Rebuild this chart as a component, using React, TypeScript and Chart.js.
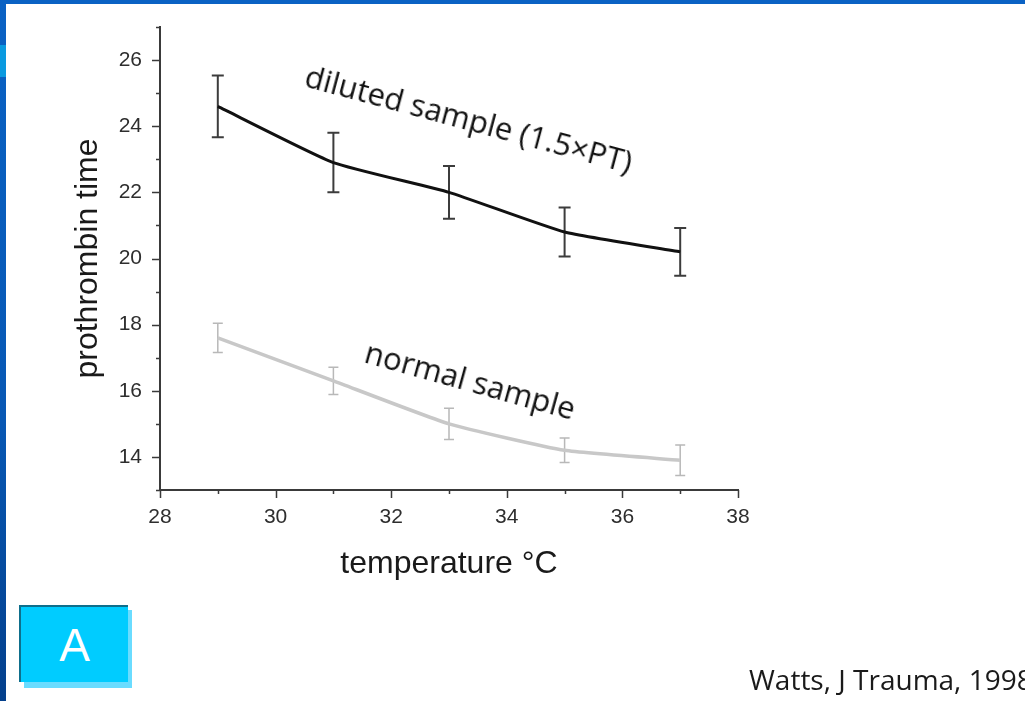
import React, { useEffect, useRef } from "react";
import { Chart, registerables } from "chart.js";

Chart.register(...registerables);

// ---- data ----
const temperatures = [29, 31, 33, 35, 37];
const dilutedMeans = [24.6, 22.9, 22.0, 20.8, 20.2];
const dilutedErrors = [0.93, 0.9, 0.8, 0.74, 0.72];
const normalMeans = [17.6, 16.3, 15.0, 14.2, 13.9];
const normalErrors = [0.44, 0.41, 0.47, 0.37, 0.46];
const xMin = 28;
const xMax = 38;
const yMin = 13;
const yMax = 27;
const dilutedLabel = "diluted sample (1.5×PT)";
const normalLabel = "normal sample";
const xTitle = "temperature °C";
const yTitle = "prothrombin time";
const citation = "Watts, J Trauma, 1998";
const panelLetter = "A";

const errorBarPlugin = {
  id: "errorBars",
  beforeDatasetsDraw(chart: any) {
    const ctx = chart.ctx;
    const xs = chart.scales.x;
    const ys = chart.scales.y;
    chart.data.datasets.forEach((ds: any) => {
      const errs: number[] = ds.errors;
      if (!errs) return;
      ctx.save();
      ctx.strokeStyle = ds.errorColor;
      ctx.lineWidth = ds.errorWidth;
      ds.data.forEach((p: any, i: number) => {
        const px = xs.getPixelForValue(p.x);
        const top = ys.getPixelForValue(p.y + errs[i]);
        const bot = ys.getPixelForValue(p.y - errs[i]);
        const c = ds.capHalf;
        ctx.beginPath();
        ctx.moveTo(px, top);
        ctx.lineTo(px, bot);
        ctx.moveTo(px - c, top);
        ctx.lineTo(px + c, top);
        ctx.moveTo(px - c, bot);
        ctx.lineTo(px + c, bot);
        ctx.stroke();
      });
      ctx.restore();
    });
  },
};

const tickMarkPlugin = {
  id: "tickMarks",
  afterDraw(chart: any) {
    const ctx = chart.ctx;
    const xs = chart.scales.x;
    const ys = chart.scales.y;
    const area = chart.chartArea;
    ctx.save();
    ctx.strokeStyle = "#3a3a3a";
    ctx.lineWidth = 1.5;
    ctx.beginPath();
    for (let v = xMin; v <= xMax; v++) {
      const px = Math.round(xs.getPixelForValue(v)) + 0.5;
      const len = v % 2 === 0 ? 8 : 4;
      ctx.moveTo(px, area.bottom);
      ctx.lineTo(px, area.bottom + len);
    }
    for (let v = yMin; v <= yMax; v++) {
      const py = Math.round(ys.getPixelForValue(v)) + 0.5;
      const len = v % 2 === 0 ? 8 : 4;
      ctx.moveTo(area.left, py);
      ctx.lineTo(area.left - len, py);
    }
    ctx.stroke();
    ctx.restore();
  },
};

function ChartPanel() {
  const ref = useRef<HTMLCanvasElement | null>(null);
  useEffect(() => {
    if (!ref.current) return;
    const chart = new Chart(ref.current, {
      type: "line",
      data: {
        datasets: [
          {
            label: dilutedLabel,
            data: temperatures.map((t, i) => ({ x: t, y: dilutedMeans[i] })),
            borderColor: "#111111",
            borderWidth: 3,
            pointRadius: 0,
            tension: 0.15,
            errors: dilutedErrors,
            errorColor: "#3c3c3c",
            errorWidth: 2,
            capHalf: 6,
          } as any,
          {
            label: normalLabel,
            data: temperatures.map((t, i) => ({ x: t, y: normalMeans[i] })),
            borderColor: "#c8c8c8",
            borderWidth: 3.5,
            pointRadius: 0,
            tension: 0.15,
            errors: normalErrors,
            errorColor: "#b8b8b8",
            errorWidth: 1.5,
            capHalf: 5,
          } as any,
        ],
      },
      options: {
        responsive: false,
        animation: false,
        events: [],
        layout: { padding: { top: 27, right: 287, left: 0, bottom: 0 } },
        plugins: { legend: { display: false }, tooltip: { enabled: false } },
        scales: {
          x: {
            type: "linear",
            min: xMin,
            max: xMax,
            afterFit: (s: any) => {
              s.height = 211;
              s.paddingLeft = 0;
              s.paddingRight = 0;
            },
            grid: { display: false, drawTicks: false },
            border: { display: true, color: "#3a3a3a", width: 2 },
            ticks: {
              stepSize: 1,
              padding: 15,
              color: "#2e2e2e",
              font: { family: "'Liberation Sans', Arial, sans-serif", size: 21 },
              maxRotation: 0,
              autoSkip: false,
              callback: (v: any) => (Number(v) % 2 === 0 ? String(v) : ""),
            },
            title: {
              display: true,
              text: xTitle,
              color: "#1a1a1a",
              font: { family: "'Liberation Sans', Arial, sans-serif", size: 32 },
              padding: { top: 0, bottom: 118 },
            },
          },
          y: {
            type: "linear",
            min: yMin,
            max: yMax,
            afterFit: (s: any) => {
              s.width = 160;
              s.paddingTop = 0;
              s.paddingBottom = 0;
            },
            grid: { display: false, drawTicks: false },
            border: { display: true, color: "#3a3a3a", width: 2 },
            ticks: {
              stepSize: 1,
              padding: 18,
              color: "#2e2e2e",
              font: { family: "'Liberation Sans', Arial, sans-serif", size: 21 },
              autoSkip: false,
              callback: (v: any) => (Number(v) % 2 === 0 ? String(v) : ""),
            },
            title: {
              display: true,
              text: yTitle,
              color: "#1a1a1a",
              font: { family: "'Liberation Sans', Arial, sans-serif", size: 32 },
              padding: { top: 69, bottom: 0 },
            },
          },
        },
      },
      plugins: [errorBarPlugin, tickMarkPlugin],
    });
    return () => chart.destroy();
  }, []);
  return (
    <canvas
      ref={ref}
      width={1025}
      height={701}
      style={{ position: "absolute", left: 0, top: 0, width: 1025, height: 701 }}
    />
  );
}

export default function App() {
  const annot: React.CSSProperties = {
    position: "absolute",
    fontFamily: "'Open Sans', 'Noto Sans', sans-serif",
    color: "#111",
    lineHeight: 1,
    whiteSpace: "nowrap",
    transformOrigin: "0 0",
  };
  return (
    <div
      style={{
        position: "fixed",
        left: 0,
        top: 0,
        width: 1025,
        height: 701,
        background: "#ffffff",
        overflow: "hidden",
      }}
    >
      <ChartPanel />
      {/* slide decorations */}
      <div style={{ position: "absolute", left: 0, top: 0, width: 1025, height: 4, background: "#0a62c4" }} />
      <div
        style={{
          position: "absolute",
          left: 0,
          top: 0,
          width: 6,
          height: 701,
          background: "linear-gradient(#0a62c4, #0858b4 60%, #04408c)",
        }}
      />
      <div style={{ position: "absolute", left: 0, top: 45, width: 6, height: 32, background: "#0a9ae0" }} />
      {/* rotated curve labels */}
      <div style={{ ...annot, left: 310, top: 60, fontSize: 31, transform: "rotate(15deg)" }}>{dilutedLabel}</div>
      <div style={{ ...annot, left: 370, top: 336, fontSize: 31, transform: "rotate(15.5deg)" }}>{normalLabel}</div>
      {/* panel letter box */}
      <div style={{ position: "absolute", left: 24, top: 610, width: 108, height: 78, background: "#6adcff" }} />
      <div
        style={{
          position: "absolute",
          left: 19,
          top: 605,
          width: 107,
          height: 75,
          background: "#00ccff",
          borderTop: "2px solid #0e6f8c",
          borderLeft: "2px solid #0e6f8c",
          color: "#ffffff",
          fontFamily: "'Liberation Sans', Arial, sans-serif",
          fontSize: 46,
          display: "flex",
          alignItems: "center",
          justifyContent: "center",
        }}
      >
        {panelLetter}
      </div>
      {/* citation */}
      <div style={{ ...annot, left: 749, top: 665, fontSize: 28, color: "#1a1a1a" }}>{citation}</div>
    </div>
  );
}
